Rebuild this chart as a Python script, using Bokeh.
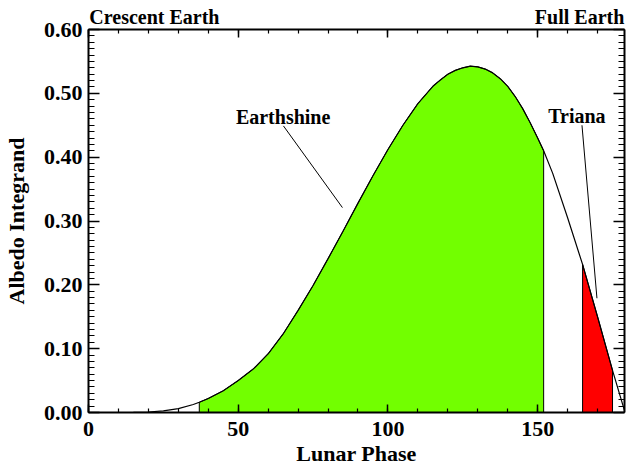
from bokeh.plotting import figure
from bokeh.models import Range1d, LinearAxis, FixedTicker, PrintfTickFormatter, ColumnDataSource
from bokeh.core.properties import value
from bokeh.embed import file_html
from bokeh.resources import INLINE

# ---- data ----
phase = [0, 5, 10, 15, 20, 25, 30, 35, 37, 40, 45, 50, 55, 60, 65, 70, 75, 80, 85, 90,
         95, 100, 105, 110, 115, 117.5, 120, 122.5, 125, 127.5, 130, 132.5, 135, 137.5,
         140, 142.5, 145, 147.5, 150, 152, 155, 160, 165, 170, 175, 179]
integrand = [0.0000, 0.0000, 0.0000, 0.0001, 0.0008, 0.0025, 0.0060, 0.0125, 0.016, 0.022,
             0.034, 0.050, 0.068, 0.092, 0.123, 0.160, 0.199, 0.241, 0.284, 0.328,
             0.371, 0.412, 0.450, 0.484, 0.511, 0.521, 0.530, 0.536, 0.540, 0.5425,
             0.5415, 0.538, 0.532, 0.523, 0.511, 0.495, 0.476, 0.454, 0.430, 0.410,
             0.375, 0.305, 0.232, 0.150, 0.066, 0.003]

earthshine_range = [37, 152]
triana_range = [165, 175]

x_major_ticks = [0, 50, 100, 150]
x_minor_ticks = list(range(0, 180, 10))
y_major_ticks = [0.0, 0.1, 0.2, 0.3, 0.4, 0.5, 0.6]
y_minor_ticks = [i / 100 for i in range(0, 61)]

top_labels = ["Crescent Earth", "Full Earth"]
top_label_x = [22.0, 164.0]

earthshine_label = ("Earthshine", 65, 0.463)
earthshine_pointer_x = [65.1, 84.8]
earthshine_pointer_y = [0.449, 0.321]
triana_label = ("Triana", 163.1, 0.464)
triana_pointer_x = [164.8, 169.8]
triana_pointer_y = [0.450, 0.179]

FONT = "Liberation Serif"


def region(lo, hi):
    xs = [lo] + [x for x in phase if lo <= x <= hi] + [hi]
    ys = [0.0] + [y for x, y in zip(phase, integrand) if lo <= x <= hi] + [0.0]
    return xs, ys


p = figure(width=626, height=469, output_backend="svg", toolbar_location=None,
           x_range=Range1d(0, 179), y_range=Range1d(0, 0.6),
           min_border_left=88, min_border_right=2, min_border_top=29, min_border_bottom=57,
           x_axis_label="Lunar Phase", y_axis_label="Albedo Integrand")
p.grid.visible = False
p.outline_line_color = None
p.background_fill_color = "white"
p.border_fill_color = "white"

bottom = p.below[0]
left = p.left[0]

gx, gy = region(*earthshine_range)
p.patch(gx, gy, fill_color="#72FF00", line_color="black", line_width=1)
rx, ry = region(*triana_range)
p.patch(rx, ry, fill_color="#FF0000", line_color="black", line_width=1)

p.line(phase, integrand, line_color="black", line_width=1.2)

p.line(earthshine_pointer_x, earthshine_pointer_y, line_color="black", line_width=1)
p.line(triana_pointer_x, triana_pointer_y, line_color="black", line_width=1)

src = ColumnDataSource(dict(t=[earthshine_label[0], triana_label[0]],
                            x=[earthshine_label[1], triana_label[1]],
                            y=[earthshine_label[2], triana_label[2]]))
p.text("x", "y", text="t", source=src, text_font=value(FONT), text_font_style="bold",
       text_font_size="20px", text_align="center", text_baseline="alphabetic", text_color="black")

xt = FixedTicker(ticks=x_major_ticks, minor_ticks=x_minor_ticks)
yt = FixedTicker(ticks=y_major_ticks, minor_ticks=y_minor_ticks)

top = LinearAxis(ticker=xt)
right = LinearAxis(ticker=yt)
p.add_layout(top, "above")
p.add_layout(right, "right")

# axis that carries the two texts above the plot
label_axis = LinearAxis(ticker=FixedTicker(ticks=top_label_x, minor_ticks=[]))
label_axis.major_label_overrides = {x: t for x, t in zip(top_label_x, top_labels)}
p.add_layout(label_axis, "above")

for ax in [bottom, top]:
    ax.ticker = xt
    ax.major_tick_in = 8
    ax.minor_tick_in = 4
for ax in [left, right]:
    ax.ticker = yt
    ax.major_tick_in = 11
    ax.minor_tick_in = 6
    ax.formatter = PrintfTickFormatter(format="%.2f")

for ax in [bottom, top, left, right, label_axis]:
    ax.major_tick_out = 0
    ax.minor_tick_out = 0
    ax.axis_line_width = 2
    ax.axis_line_color = "black"
    ax.major_tick_line_width = 1.5
    ax.minor_tick_line_width = 1.2
    ax.major_tick_line_color = "black"
    ax.minor_tick_line_color = "black"
    ax.major_label_text_font = FONT
    ax.major_label_text_font_style = "bold"
    ax.major_label_text_font_size = "22px"
    ax.major_label_text_color = "black"
    ax.axis_label_text_font = FONT
    ax.axis_label_text_font_style = "bold"
    ax.axis_label_text_font_size = "22px"
    ax.axis_label_text_color = "black"

for ax, ticks in [(top, x_major_ticks), (right, y_major_ticks)]:
    ax.major_label_overrides = {t: "" for t in ticks}
    ax.major_label_standoff = 0

label_axis.axis_line_color = None
label_axis.major_tick_line_color = None
label_axis.minor_tick_line_color = None
label_axis.major_tick_in = 0
label_axis.major_label_text_font_size = "20px"
label_axis.major_label_standoff = 2

bottom.major_label_standoff = 9
bottom.axis_label_standoff = 2
left.major_label_standoff = 6
left.axis_label_standoff = 12

open("out.html", "w").write(file_html(p, INLINE))
